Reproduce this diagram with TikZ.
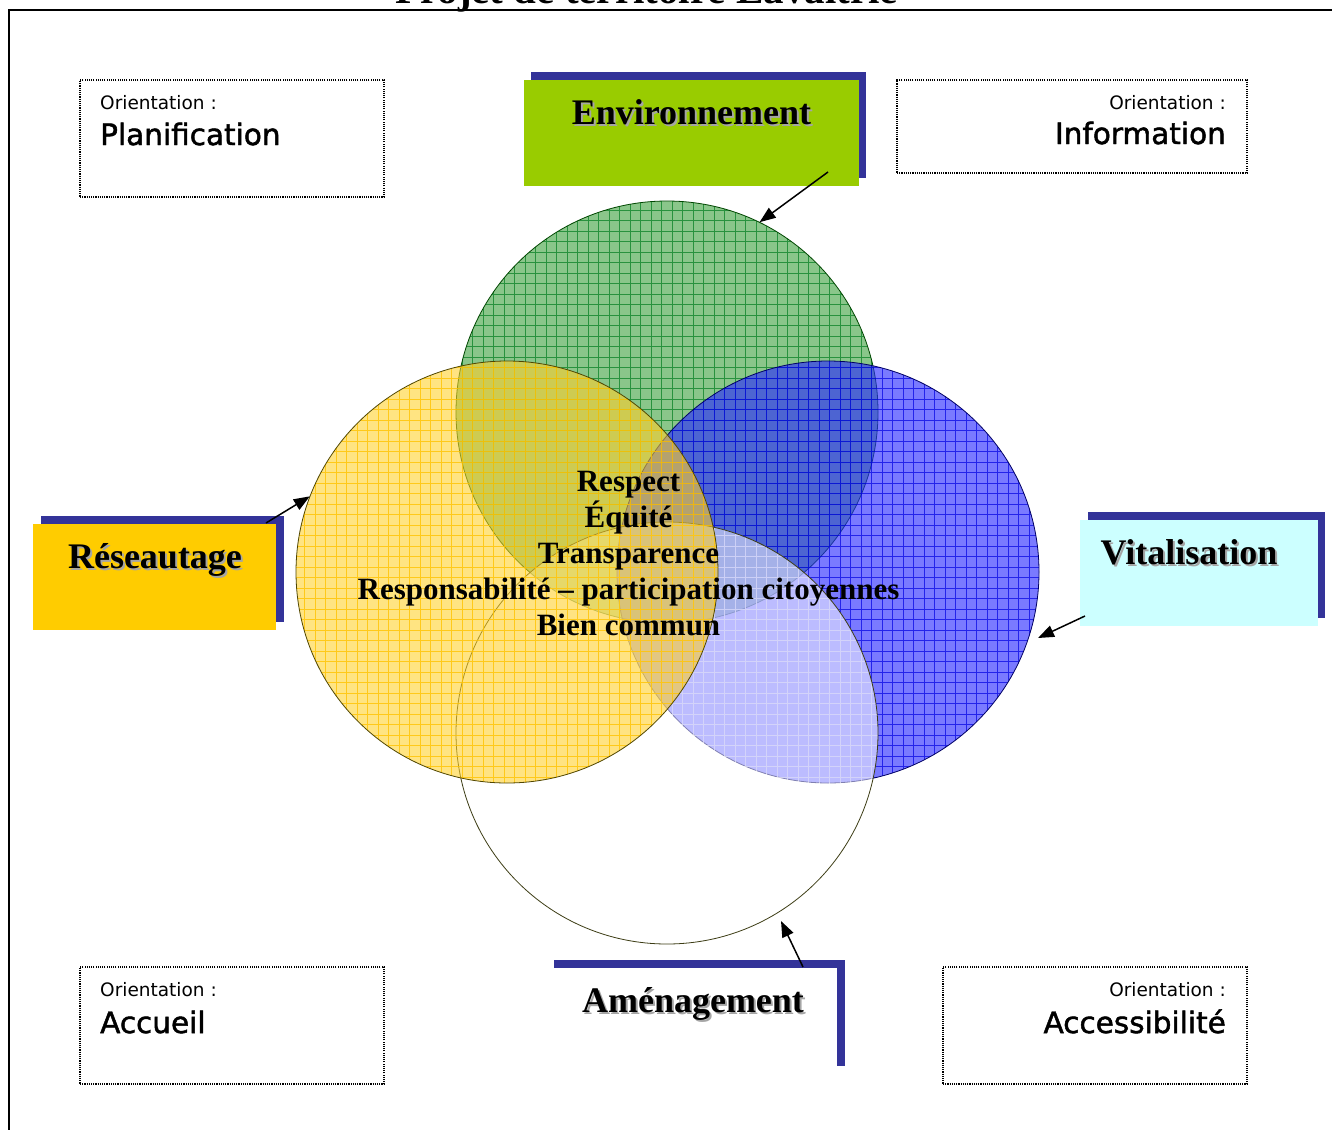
\documentclass[tikz,border=0pt]{standalone}
\usepackage{fontspec}
\setmainfont{Liberation Serif}
\setsansfont{DejaVu Sans}
\newfontfamily\labelfont[FakeBold=1.6]{DejaVu Sans}
\usetikzlibrary{arrows.meta}
\definecolor{shadowblue}{RGB}{51,51,153}
\definecolor{envgreen}{RGB}{153,204,0}
\definecolor{resyellow}{RGB}{255,204,0}
\definecolor{vitcyan}{RGB}{204,255,255}
\definecolor{gfill}{RGB}{60,160,60}
\definecolor{gline}{RGB}{0,125,30}
\definecolor{gedge}{RGB}{0,70,0}
\definecolor{bfill}{RGB}{40,40,255}
\definecolor{bline}{RGB}{0,0,225}
\definecolor{bedge}{RGB}{0,0,100}
\definecolor{yfill}{RGB}{255,208,40}
\definecolor{yline}{RGB}{255,195,0}
\definecolor{yedge}{RGB}{80,70,0}
\definecolor{wedge}{RGB}{60,60,20}
\definecolor{txtshadow}{RGB}{165,165,165}
\begin{document}
\begin{tikzpicture}[x=1pt,y=-1pt,
  shadowbox/.style={fill=shadowblue, inner sep=0pt},
  mainbox/.style={inner sep=0pt},
  orientbox/.style={draw=black, line width=1.1pt, dash pattern=on 1.1pt off 1.1pt, inner sep=0pt},
  headtext/.style={font=\bfseries\fontsize{36}{36}\selectfont, anchor=base, inner sep=0pt},
  headshadow/.style={headtext, text=txtshadow},
  centertext/.style={font=\bfseries\fontsize{31}{36}\selectfont, anchor=base, inner sep=0pt},
  smalllabel/.style={font=\sffamily\fontsize{18.5}{20}\selectfont, inner sep=0pt},
  biglabel/.style={font=\labelfont\fontsize{29.5}{32}\selectfont, inner sep=0pt},
  vcircle/.style={circle, minimum size=422pt, inner sep=0pt},
  pointer/.style={line width=1.5pt, -{Triangle[length=16pt,width=12pt]}}
]
\useasboundingbox (0,0) rectangle (1332,1130);
\clip (0,0) rectangle (1332,1130);

% title and frame
\node[font=\bfseries\fontsize{41}{41}\selectfont, anchor=base, inner sep=0pt] (title) at (646.5,3) {Projet de territoire Lavaltrie};
\draw[line width=2pt] (1332,9.5) -- (9,9.5) -- (9,1130);

% orientation boxes
\node[orientbox, minimum width=304pt, minimum height=117pt] (oPlan) at (232,138.5) {};
\node[smalllabel, anchor=base west] (oPlanA) at (100,109) {Orientation :};
\node[biglabel, anchor=base west] (oPlanB) at (100,145) {Planification};

\node[orientbox, minimum width=350pt, minimum height=93pt] (oInfo) at (1072,126.5) {};
\node[smalllabel, anchor=base east] (oInfoA) at (1226,109) {Orientation :};
\node[biglabel, anchor=base east] (oInfoB) at (1226,144) {Information};

\node[orientbox, minimum width=304pt, minimum height=117pt] (oAcc) at (232,1025.5) {};
\node[smalllabel, anchor=base west] (oAccA) at (100,996) {Orientation :};
\node[biglabel, anchor=base west] (oAccB) at (100,1033) {Accueil};

\node[orientbox, minimum width=304pt, minimum height=117pt] (oAcs) at (1095,1025.5) {};
\node[smalllabel, anchor=base east] (oAcsA) at (1226,996) {Orientation :};
\node[biglabel, anchor=base east] (oAcsB) at (1226,1033) {Accessibilité};

% circles (anchors)
\node[vcircle] (cG) at (667,412) {};
\node[vcircle] (cB) at (828,572) {};
\node[vcircle] (cY) at (507,572) {};
\node[vcircle] (cW) at (667,733) {};

% green
\fill[gfill, fill opacity=.6] (667,412) circle[radius=211pt];
\begin{scope}
\clip (667,412) circle[radius=211pt];
\draw[gline, line width=1pt, opacity=.7, step=10.5pt] (420,180) grid (900,640);
\end{scope}
\draw[gedge, line width=.8pt] (667,412) circle[radius=211pt];
% blue
\fill[bfill, fill opacity=.62] (828,572) circle[radius=211pt];
\begin{scope}
\clip (828,572) circle[radius=211pt];
\draw[bline, line width=1pt, opacity=.7, step=10.5pt] (600,340) grid (1060,800);
\end{scope}
\draw[bedge, line width=.8pt] (828,572) circle[radius=211pt];
% white
\fill[white, fill opacity=.5] (667,733) circle[radius=211pt];
\begin{scope}
\clip (667,733) circle[radius=211pt];
\draw[white, line width=1pt, opacity=.6, step=10.5pt] (440,510) grid (900,960);
\end{scope}
\draw[wedge, line width=.8pt] (667,733) circle[radius=211pt];
% yellow
\fill[yfill, fill opacity=.58] (507,572) circle[radius=211pt];
\begin{scope}
\clip (507,572) circle[radius=211pt];
\draw[yline, line width=1pt, opacity=.8, step=10.5pt] (280,340) grid (740,800);
\end{scope}
\draw[yedge, line width=.8pt] (507,572) circle[radius=211pt];

% centre text
\node[centertext] (t1) at (628.5,491) {Respect};
\node[centertext] (t2) at (628.5,527) {Équité};
\node[centertext] (t3) at (628.5,563) {Transparence};
\node[centertext] (t4) at (628.5,599) {Responsabilité – participation citoyennes};
\node[centertext] (t5) at (628.5,635) {Bien commun};

% Environnement
\node[shadowbox, minimum width=335pt, minimum height=106pt] (envS) at (698.5,125) {};
\node[mainbox, fill=envgreen, minimum width=335pt, minimum height=106pt] (env) at (691.5,133) {};
\node[headshadow] (envTs) at (693.5,126) {Environnement};
\node[headtext] (envT) at (691.5,124) {Environnement};

% Réseautage
\node[shadowbox, minimum width=243pt, minimum height=106pt] (resS) at (162.5,569) {};
\node[mainbox, fill=resyellow, minimum width=243pt, minimum height=106pt] (res) at (154.5,577) {};
\node[headshadow] (resTs) at (157,570) {Réseautage};
\node[headtext] (resT) at (155,568) {Réseautage};

% Vitalisation
\node[shadowbox, minimum width=237pt, minimum height=106pt] (vitS) at (1206.5,565) {};
\node[mainbox, fill=vitcyan, minimum width=238pt, minimum height=106pt] (vit) at (1199,573) {};
\node[headshadow] (vitTs) at (1191,566) {Vitalisation};
\node[headtext] (vitT) at (1189,564) {Vitalisation};

% Aménagement
\node[shadowbox, minimum width=291pt, minimum height=106pt] (amS) at (699.5,1013) {};
\node[mainbox, fill=white, minimum width=291pt, minimum height=106pt] (am) at (691.5,1021) {};
\node[headshadow] (amTs) at (695,1014) {Aménagement};
\node[headtext] (amT) at (693,1012) {Aménagement};

% connectors
\coordinate (envA) at (828,172);
\coordinate (resA) at (266,523);
\coordinate (vitA) at (1085,616);
\coordinate (vitB) at (1038,638);
\coordinate (amA) at (803,967);
\coordinate (amB) at (781,921);
\draw[pointer] (envA) -- (cG.64.9);
\draw[pointer] (resA) -- (cY.159.4);
\draw[pointer] (vitA) -- (vitB);
\draw[pointer] (amA) -- (amB);
\end{tikzpicture}
\end{document}
